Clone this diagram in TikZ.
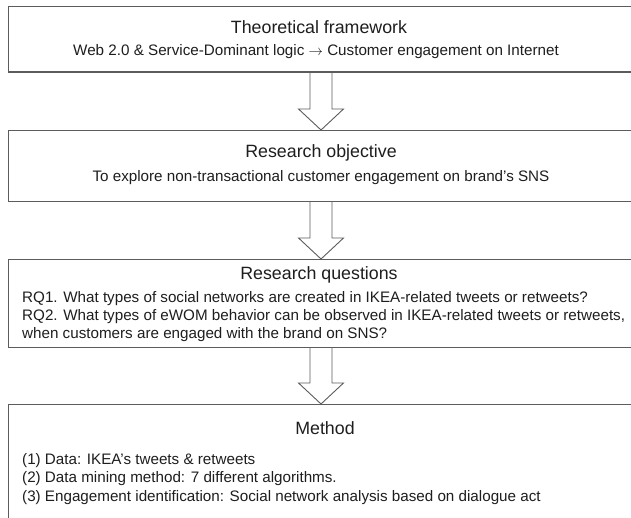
\documentclass[tikz,border=0pt]{standalone}
\usepackage{fontspec}
\setmainfont{Liberation Sans}
\usetikzlibrary{calc}
\definecolor{boxgray}{HTML}{5C5C5C}
\definecolor{textgray}{HTML}{1E1E1E}
\newcommand\hollowarrow[2]{%
  \draw[blockarrow] ($(#1.south -| ax)+(-11,0)$) -- ($(#2.north -| ax)+(-11,-21)$)
    -- ($(#2.north -| ax)+(-22.5,-21)$) -- (#2.north -| ax)
    -- ($(#2.north -| ax)+(22.5,-21)$) -- ($(#2.north -| ax)+(11,-21)$)
    -- ($(#1.south -| ax)+(11,0)$);}
\begin{document}
\begin{tikzpicture}[x=1pt,y=-1pt,
  box/.style={draw=boxgray,line width=1.1pt,minimum width=626pt,inner sep=0pt,anchor=north west},
  ttl/.style={font=\fontsize{17.8}{20}\selectfont,text=textgray,anchor=base,inner sep=0pt},
  sub/.style={font=\fontsize{15.2}{17.5}\selectfont,text=textgray,anchor=base,inner sep=0pt},
  body/.style={font=\fontsize{15.2}{17.5}\selectfont,text=textgray,anchor=base west,inner sep=0pt},
  blockarrow/.style={draw=boxgray,line width=0.9pt,line join=miter}]
\useasboundingbox (0,0) rectangle (631,518);
\clip (0,0) rectangle (631,518);
\fill[white] (0,0) rectangle (631,518);
\coordinate (ax) at (321,0);
% boxes
\node[box,minimum height=65.5pt] (b1) at (8,6) {};
\node[box,minimum height=71pt] (b2) at (8,130) {};
\node[box,minimum height=88pt] (b3) at (8,259) {};
\node[box,minimum height=130pt] (b4) at (8,404) {};
% texts
\node[ttl] (t1) at (319,34) {Theoretical framework};
\node[sub] (s1) at (316,56) {Web 2.0 \& Service-Dominant logic $\rightarrow$ Customer engagement on Internet};
\node[ttl] (t2) at (321,158) {Research objective};
\node[sub] (s2) at (321,181.5) {To explore non-transactional customer engagement on brand’s SNS};
\node[ttl] (t3) at (319,279.5) {Research questions};
\node[body] (q1) at (22,302) {RQ1. What types of social networks are created in IKEA-related tweets or retweets?};
\node[body] (q2) at (22,320) {RQ2. What types of eWOM behavior can be observed in IKEA-related tweets or retweets,};
\node[body] (q3) at (22,338) {when customers are engaged with the brand on SNS?};
\node[ttl] (t4) at (325,434.5) {Method};
\node[body] (m1) at (22,464) {(1) Data: IKEA’s tweets \& retweets};
\node[body] (m2) at (22,482.5) {(2) Data mining method: 7 different algorithms.};
\node[body] (m3) at (22,501) {(3) Engagement identification: Social network analysis based on dialogue act};
% arrows
\hollowarrow{b1}{b2}
\hollowarrow{b2}{b3}
\hollowarrow{b3}{b4}
\end{tikzpicture}
\end{document}
